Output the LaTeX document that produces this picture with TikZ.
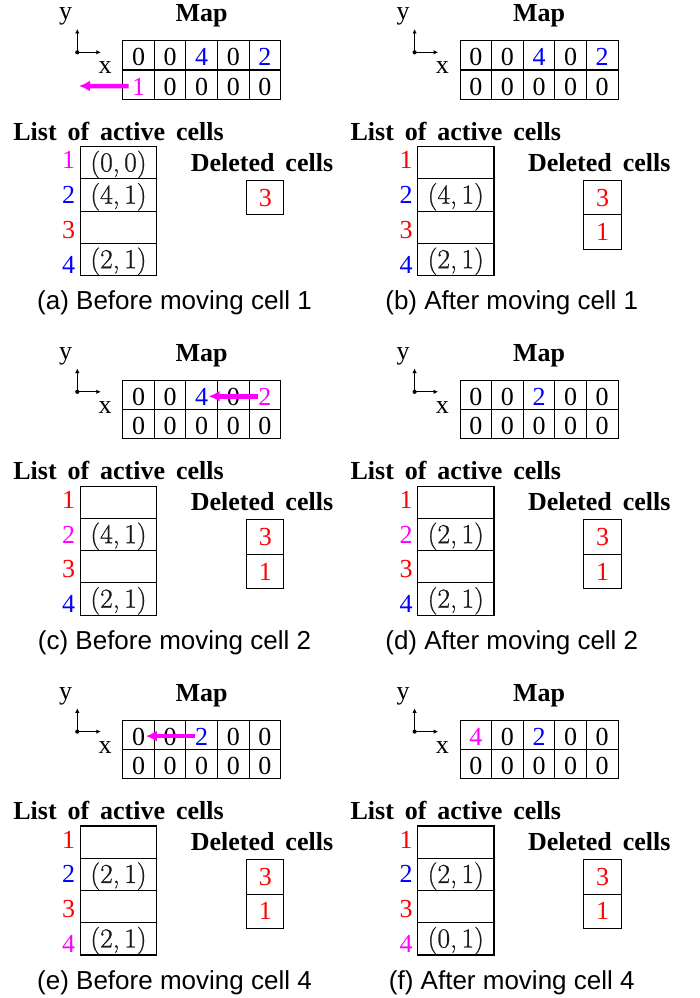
\documentclass[tikz,border=0pt]{standalone}
\usepackage[no-math]{fontspec}
\setmainfont{Liberation Serif}
\setsansfont{Liberation Sans}
\newfontfamily\lmr{Latin Modern Roman}[FakeBold=0.8]
\usetikzlibrary{arrows.meta}
\definecolor{mag}{RGB}{255,0,255}
\definecolor{blu}{RGB}{0,0,255}
\definecolor{rd}{RGB}{255,0,0}
\newcommand\fs{\fontsize{26}{30}\selectfont}
\newcommand\ws{\hspace{0.42em}}
\newcommand\pr[2]{{\fontsize{27.5}{30}\lmr(#1,\,#2)}}
\tikzset{
  txt/.style={inner sep=0pt, anchor=base, font=\fs},
  ttl/.style={inner sep=0pt, anchor=base, font=\fs\bfseries},
  captxt/.style={inner sep=0pt, anchor=base, font=\fs\sffamily},
  mapcell/.style={draw, line width=1pt, minimum width=31.6pt, minimum height=29.3pt,
    inner sep=0pt, text height=21.1pt, text depth=0pt, font=\fs},
  listcell/.style={draw, line width=1.1pt, minimum width=76.4pt, minimum height=32.25pt,
    inner sep=0pt, text height=17.25pt, text depth=0pt, text=black!90, font=\fs},
  delcell/.style={draw, line width=1pt, minimum width=37.3pt, minimum height=34.5pt,
    inner sep=0pt, text height=16.9pt, text depth=0pt, text=rd, font=\fs},
  origindot/.style={circle, fill, inner sep=0pt, minimum size=4.2pt},
  axisarrow/.style={line width=0.9pt, -{Latex[length=4.5pt,width=4.5pt]}},
  movearrow/.style={draw=mag, line width=4.5pt, -{Latex[length=11pt,width=11pt]}},
}
% #1 id, #2 shift, #3 map row 0, #4 map row 1, #5 list, #6 deleted, #7 caption
\newcommand\drawpanel[7]{%
\begin{scope}[shift={#2}]
  \node[origindot] (#1-o) at (77.3,52.3) {};
  \coordinate (#1-ay) at (77.3,29);
  \coordinate (#1-ax) at (100.8,52.3);
  \draw[axisarrow] (#1-o.center) -- (#1-ay);
  \draw[axisarrow] (#1-o.center) -- (#1-ax);
  \node[txt] (#1-y) at (65.7,19.8) {y};
  \node[txt] (#1-x) at (105,74) {x};
  \node[ttl] (#1-map) at (201.7,21.7) {Map};
  \foreach \t/\c [count=\i from 0] in {#3}
    \node[mapcell, text=\c] (#1-m\i0) at (138.5+31.6*\i,55.35) {\t};
  \foreach \t/\c [count=\i from 0] in {#4}
    \node[mapcell, text=\c] (#1-m\i1) at (138.5+31.6*\i,84.65) {\t};
  \node[ttl] (#1-lt) at (118.5,140) {List\ws of\ws active\ws cells};
  \foreach \c/\e [count=\k from 0] in {#5} {
    \node[listcell] (#1-l\k) at (118.5,162.8+32.25*\k) {\e};
    \node[txt, text=\c] (#1-i\k) at (68.7,168.7+34.8*\k) {\pgfmathparse{int(\k+1)}\pgfmathresult};
  }
  \node[ttl] (#1-dt) at (262,171) {Deleted\ws cells};
  \foreach \d [count=\k from 0] in {#6}
    \node[delcell] (#1-d\k) at (265.3,197.55+34.5*\k) {\d};
  \node[captxt] (#1-cap) at (174.5,309.7) {#7};
\end{scope}}
\begin{document}
\begin{tikzpicture}[x=1pt,y=-1pt]
\useasboundingbox (0,0) rectangle (699,998);
\drawpanel{a}{(0,0)}{0/black,0/black,4/blu,0/black,2/blu}{1/mag,0/black,0/black,0/black,0/black}
  {mag/{\pr00},blu/{\pr41},rd/{},blu/{\pr21}}{3}{(a) Before moving cell 1}
\drawpanel{b}{(337.3,0)}{0/black,0/black,4/blu,0/black,2/blu}{0/black,0/black,0/black,0/black,0/black}
  {rd/{},blu/{\pr41},rd/{},blu/{\pr21}}{3,1}{(b) After moving cell 1}
\drawpanel{c}{(0,339.5)}{0/black,0/black,4/blu,0/black,2/mag}{0/black,0/black,0/black,0/black,0/black}
  {rd/{},mag/{\pr41},rd/{},blu/{\pr21}}{3,1}{(c) Before moving cell 2}
\drawpanel{d}{(337.3,339.5)}{0/black,0/black,2/blu,0/black,0/black}{0/black,0/black,0/black,0/black,0/black}
  {rd/{},mag/{\pr21},rd/{},blu/{\pr21}}{3,1}{(d) After moving cell 2}
\drawpanel{e}{(0,679.3)}{0/black,0/black,2/blu,0/black,0/black}{0/black,0/black,0/black,0/black,0/black}
  {rd/{},blu/{\pr21},rd/{},mag/{\pr21}}{3,1}{(e) Before moving cell 4}
\drawpanel{f}{(337.3,679.3)}{4/mag,0/black,2/blu,0/black,0/black}{0/black,0/black,0/black,0/black,0/black}
  {rd/{},blu/{\pr21},rd/{},mag/{\pr01}}{3,1}{(f) After moving cell 4}
\coordinate (a-tip) at (79,86);
\draw[movearrow] ([shift={(-10,1.4)}]a-m01.center) -- (a-tip);
\draw[movearrow] ([shift={(-6.5,1.4)}]c-m40.center) -- ([shift={(7,1.4)}]c-m20.center);
\draw[movearrow] ([shift={(-6.5,1.4)}]e-m20.center) -- ([shift={(7.4,1.4)}]e-m00.center);
\end{tikzpicture}
\end{document}
